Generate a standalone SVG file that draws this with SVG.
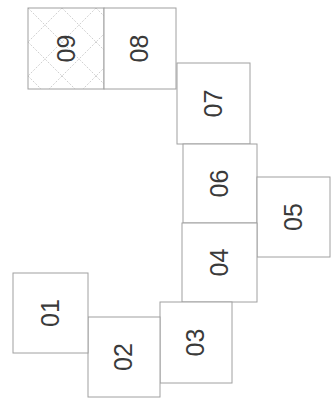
<svg xmlns="http://www.w3.org/2000/svg" width="336" height="406" viewBox="0 0 336 406">
  <style>
    .box { fill: #ffffff; stroke: #a0a0a0; stroke-width: 1; }
    .lbl { font-family: "Liberation Sans", Arial, sans-serif; font-size: 25px; fill: #3a3a3a; text-anchor: middle; dominant-baseline: central; }
  </style>
  <defs>
    <pattern id="hatch" patternUnits="userSpaceOnUse" width="34" height="34" x="28" y="8">
      <rect width="34" height="34" fill="#ffffff"/>
      <path d="M0,0 L34,34 M34,0 L0,34" stroke="#c4c4c4" stroke-width="0.8" stroke-dasharray="2,1.5"/>
    </pattern>
  </defs>
  <rect width="336" height="406" fill="#ffffff"/>
  <g id="connectors"></g>
  <g id="n09">
    <rect x="28" y="8" width="76" height="81" fill="url(#hatch)" stroke="#a0a0a0" stroke-width="1"/>
    <text class="lbl" transform="translate(66,48.5) rotate(-90)">09</text>
  </g>
  <g id="n08">
    <rect class="box" x="104" y="8" width="72" height="81"/>
    <text class="lbl" transform="translate(139,48.5) rotate(-90)">08</text>
  </g>
  <g id="n07">
    <rect class="box" x="177" y="63" width="73" height="81"/>
    <text class="lbl" transform="translate(212.5,103.5) rotate(-90)">07</text>
  </g>
  <g id="n06">
    <rect class="box" x="183" y="144" width="74" height="79"/>
    <text class="lbl" transform="translate(219,183.5) rotate(-90)">06</text>
  </g>
  <g id="n05">
    <rect class="box" x="257" y="177" width="73" height="80"/>
    <text class="lbl" transform="translate(292.5,217) rotate(-90)">05</text>
  </g>
  <g id="n04">
    <rect class="box" x="182" y="223" width="75" height="79"/>
    <text class="lbl" transform="translate(218.5,262.5) rotate(-90)">04</text>
  </g>
  <g id="n03">
    <rect class="box" x="160" y="302" width="72" height="81"/>
    <text class="lbl" transform="translate(195,342.5) rotate(-90)">03</text>
  </g>
  <g id="n02">
    <rect class="box" x="88" y="317" width="72" height="80"/>
    <text class="lbl" transform="translate(123,357) rotate(-90)">02</text>
  </g>
  <g id="n01">
    <rect class="box" x="13" y="273" width="75" height="80"/>
    <text class="lbl" transform="translate(49.5,313) rotate(-90)">01</text>
  </g>
</svg>
